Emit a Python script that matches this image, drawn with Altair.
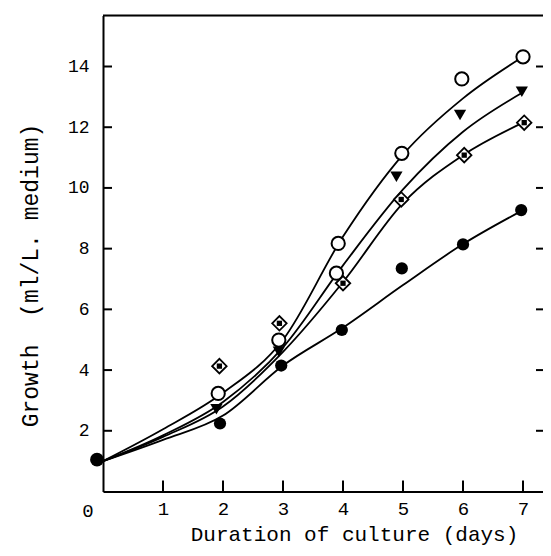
import altair as alt
import pandas as pd

# ---------------- data ----------------
# markers (day, growth ml/L medium)
open_day = [1.92, 2.93, 3.92, 3.89, 4.98, 5.98, 7.00]
open_val = [3.23, 4.99, 8.17, 7.19, 11.14, 13.59, 14.32]

filled_day = [1.95, 2.97, 3.98, 4.98, 6.00, 6.97]
filled_val = [2.24, 4.15, 5.32, 7.35, 8.14, 9.27]

tri_day = [1.89, 2.93, 4.89, 5.95, 6.98]
tri_val = [2.71, 4.60, 10.37, 12.40, 13.17]

dia_day = [1.94, 2.94, 4.00, 4.97, 6.02, 7.02]
dia_val = [4.13, 5.54, 6.86, 9.62, 11.08, 12.15]

origin_day = [-0.1]
origin_val = [1.05]

# fitted curves, read at each day
curve_day = [0, 1, 2, 3, 4, 5, 6, 7]
curve_open = [1.0, 2.05, 3.25, 5.0, 8.4, 11.1, 12.95, 14.32]
curve_tri = [1.0, 1.85, 2.95, 4.75, 7.45, 9.95, 11.85, 13.15]
curve_dia = [1.0, 1.80, 2.80, 4.60, 6.90, 9.50, 11.08, 12.15]
curve_filled = [1.0, 1.70, 2.50, 4.15, 5.40, 6.80, 8.15, 9.27]

x_ticks = [1, 2, 3, 4, 5, 6, 7]
y_ticks = [2, 4, 6, 8, 10, 12, 14]
origin_label = ["0"]

x_title = "Duration of culture (days)"
y_title = "Growth\u00a0\u00a0(ml/L. medium)"

# ---------------- layout ----------------
W, H = 440, 476
X_MAX = 7.333
Y_MAX = 15.68
FONT = "Liberation Mono"

xs = alt.Scale(domain=[0, X_MAX], nice=False, zero=False)
ys = alt.Scale(domain=[0, Y_MAX], nice=False, zero=False)

x_axis = alt.Axis(
    values=x_ticks, ticks=False, grid=False, domain=True, domainColor="black",
    domainWidth=2, labelFont=FONT, labelFontSize=19, labelColor="black",
    labelPadding=8, title=x_title, titleFont=FONT, titleFontSize=21,
    titleFontWeight="normal", titleColor="black", titleX=251, titleY=49,
    titleAlign="center", titleBaseline="alphabetic",
)
y_axis = alt.Axis(
    values=y_ticks, ticks=False, grid=False, domain=True, domainColor="black",
    domainWidth=2, labelFont=FONT, labelFontSize=18, labelColor="black",
    labelPadding=14, title=y_title, titleFont=FONT, titleFontSize=23,
    titleFontWeight="normal", titleColor="black", titleAngle=270, titleX=-73,
    titleY=259.5, titleAlign="center", titleBaseline="middle",
)


def X():
    return alt.X("day:Q", scale=xs, axis=x_axis)


def Y():
    return alt.Y("val:Q", scale=ys, axis=y_axis)


curves = pd.concat([
    pd.DataFrame({"day": curve_day, "val": curve_open, "series": "open"}),
    pd.DataFrame({"day": curve_day, "val": curve_tri, "series": "tri"}),
    pd.DataFrame({"day": curve_day, "val": curve_dia, "series": "dia"}),
    pd.DataFrame({"day": curve_day, "val": curve_filled, "series": "filled"}),
])

lines = alt.Chart(curves).mark_line(
    interpolate="monotone", color="black", strokeWidth=1.8
).encode(x=X(), y=Y(), detail="series:N")

ytick_df = pd.DataFrame({"val": y_ticks})
xtick_df = pd.DataFrame({"day": x_ticks})

left_ticks = alt.Chart(ytick_df).mark_rule(color="black", strokeWidth=2).encode(
    y=Y(), x=alt.value(0), x2=alt.value(9))
right_ticks = alt.Chart(ytick_df).mark_rule(color="black", strokeWidth=2).encode(
    y=Y(), x=alt.value(W - 7), x2=alt.value(W))
bottom_ticks = alt.Chart(xtick_df).mark_rule(color="black", strokeWidth=2).encode(
    x=X(), y=alt.value(H), y2=alt.value(H - 11))
top_frame = alt.Chart(xtick_df.head(1)).mark_rule(color="black", strokeWidth=2).encode(
    x=alt.value(0), x2=alt.value(W), y=alt.value(0))

open_pts = alt.Chart(pd.DataFrame({"day": open_day, "val": open_val})).mark_point(
    shape="circle", filled=True, fill="white", stroke="black", strokeWidth=2,
    size=175, opacity=1).encode(x=X(), y=Y())
filled_pts = alt.Chart(pd.DataFrame({"day": filled_day, "val": filled_val})).mark_point(
    shape="circle", filled=True, color="black", size=150, opacity=1).encode(x=X(), y=Y())
origin_pts = alt.Chart(pd.DataFrame({"day": origin_day, "val": origin_val})).mark_point(
    shape="circle", filled=True, color="black", size=190, opacity=1).encode(x=X(), y=Y())
tri_pts = alt.Chart(pd.DataFrame({"day": tri_day, "val": tri_val})).mark_point(
    shape="triangle-down", filled=True, color="black", size=150, opacity=1).encode(x=X(), y=Y())
dia_df = pd.DataFrame({"day": dia_day, "val": dia_val})
dia_pts = alt.Chart(dia_df).mark_point(
    shape="diamond", filled=True, fill="white", stroke="black", strokeWidth=1.8,
    size=210, opacity=1).encode(x=X(), y=Y())
dia_dots = alt.Chart(dia_df).mark_point(
    shape="square", filled=True, color="black", size=28, opacity=1).encode(x=X(), y=Y())

zero_lbl = alt.Chart(pd.DataFrame({"day": [0], "txt": origin_label})).mark_text(
    font=FONT, fontSize=19, color="black", dx=-15, baseline="middle", align="center"
).encode(x=X(), y=alt.value(495), text="txt:N")

chart = alt.layer(
    lines, left_ticks, right_ticks, bottom_ticks, top_frame,
    open_pts, filled_pts, origin_pts, tri_pts, dia_pts, dia_dots, zero_lbl,
).properties(
    width=W, height=H,
    autosize=alt.AutoSizeParams(type="none"),
    padding={"left": 95, "top": 7.5, "right": 0, "bottom": 56.5},
).configure_view(stroke=None).configure(background="white")

chart.save("out.html", embed_options={"renderer": "svg", "actions": False})
